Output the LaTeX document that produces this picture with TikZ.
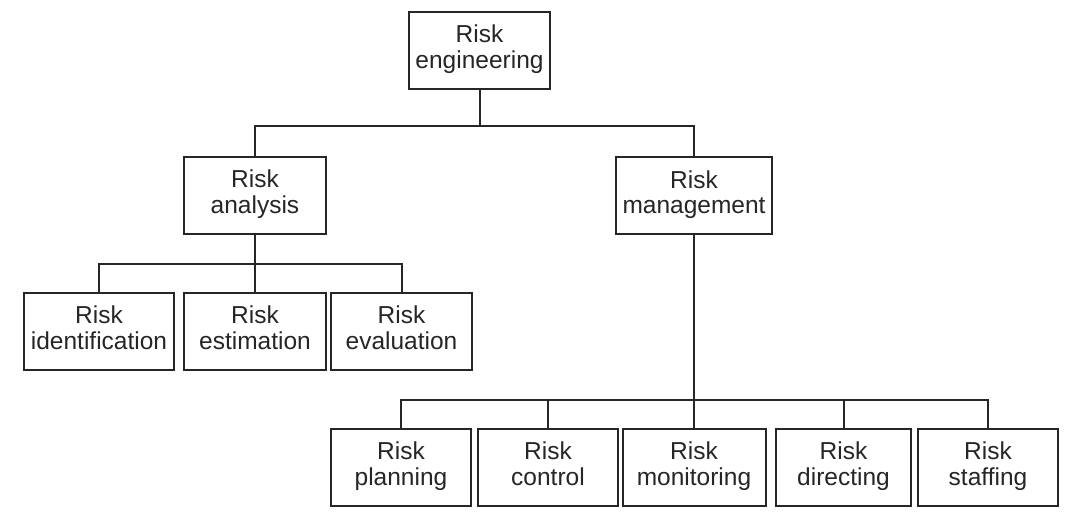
\documentclass[tikz,border=0pt]{standalone}
\usepackage{fontspec}
\setmainfont{Liberation Sans}
\newcommand{\twoln}[2]{#1\strut\\#2\strut}
\begin{document}
\begin{tikzpicture}[x=1pt,y=-1pt,
  box/.style={draw=black!85, line width=2pt, rectangle, align=center, inner sep=0pt,
    minimum height=77pt, font=\fontsize{24.5}{25}\selectfont, text=black!85},
  link/.style={draw=black!85, line width=2pt}]
\useasboundingbox[fill=white] (0,0) rectangle (1070,522);
\node[box, minimum width=141pt] (eng) at (479.5,50.5) {\twoln{Risk}{engineering}};
\node[box, minimum width=142pt] (ana) at (255,195.5) {\twoln{Risk}{analysis}};
\node[box, minimum width=156pt] (man) at (694,195.5) {\twoln{Risk}{management}};
\node[box, minimum width=150pt] (ide) at (99,331) {\twoln{Risk}{identification}};
\node[box, minimum width=142pt] (est) at (255,331) {\twoln{Risk}{estimation}};
\node[box, minimum width=141pt] (eva) at (401.5,331) {\twoln{Risk}{evaluation}};
\node[box, minimum width=140pt] (pla) at (401,467.5) {\twoln{Risk}{planning}};
\node[box, minimum width=140pt] (con) at (548,467.5) {\twoln{Risk}{control}};
\node[box, minimum width=143pt] (mon) at (694,467.5) {\twoln{Risk}{monitoring}};
\node[box, minimum width=135pt] (dir) at (843.5,467.5) {\twoln{Risk}{directing}};
\node[box, minimum width=140pt] (sta) at (988,467.5) {\twoln{Risk}{staffing}};
\coordinate (b1) at (0,126);
\coordinate (b2) at (0,264);
\coordinate (b3) at (0,399.5);
\draw[link] (eng.south) -- (eng.south |- b1);
\draw[link] (ana.north) -- (ana.north |- b1) -- (man.north |- b1) -- (man.north);
\draw[link] (ana.south) -- (est.north);
\draw[link] (ide.north) -- (ide.north |- b2) -- (eva.north |- b2) -- (eva.north);
\draw[link] (man.south) -- (mon.north);
\draw[link] (pla.north) -- (pla.north |- b3) -- (sta.north |- b3) -- (sta.north);
\draw[link] (con.north) -- (con.north |- b3);
\draw[link] (dir.north) -- (dir.north |- b3);
\end{tikzpicture}
\end{document}
